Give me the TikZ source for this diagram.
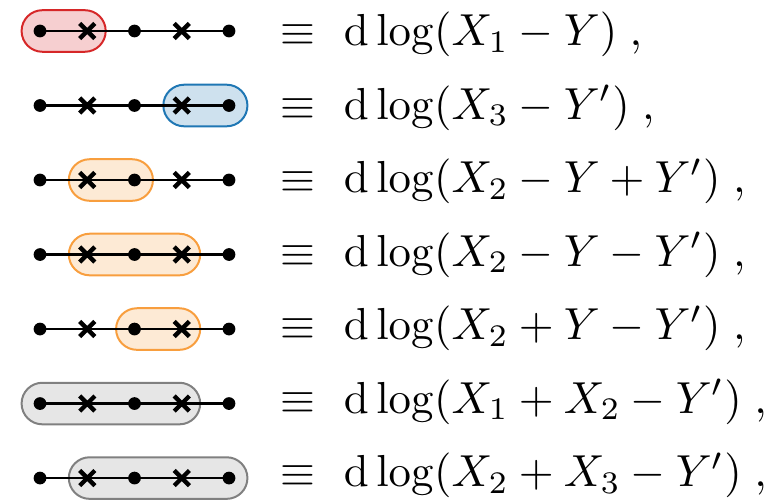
\documentclass[tikz,border=0pt]{standalone}
\usepackage{amsmath}
\usetikzlibrary{shapes.misc}

\definecolor{capred}{RGB}{214,39,40}
\definecolor{capblue}{RGB}{31,119,180}
\definecolor{caporange}{RGB}{248,158,62}
\definecolor{capgray}{RGB}{128,128,128}

\tikzset{
    capsule/.style={line width=1.2pt, rounded corners=0.44cm},
    redcap/.style={capsule, draw=capred, fill=capred!22},
    bluecap/.style={capsule, draw=capblue, fill=capblue!22},
    orangecap/.style={capsule, draw=caporange, fill=caporange!22},
    graycap/.style={capsule, draw=capgray, fill=capgray!20},
    knot/.style={circle, fill=black, inner sep=0pt, minimum size=0.27cm},
    kreuz/.style={cross out, draw=black, line width=2.6pt, inner sep=0pt, minimum size=0.23cm},
    strang/.style={line width=1.7pt},
    formel/.style={anchor=base west, inner sep=0pt, scale=2.7},
}

\begin{document}
\begin{tikzpicture}
    % Rahmen
    \useasboundingbox (-0.847,0.656) rectangle (15.598,-9.926);

    % Punkte
    \foreach \r in {1,...,7} {
            \foreach \c in {1,...,5} {
                    \coordinate (p\r\c) at ({\c-1},{-1.577*(\r-1)});
                }
        }

    % Kapseln
    \draw[redcap] ([shift={(-0.39,-0.44)}]p11) rectangle ([shift={(0.39,0.44)}]p12);
    \draw[bluecap] ([shift={(-0.39,-0.44)}]p24) rectangle ([shift={(0.39,0.44)}]p25);
    \draw[orangecap] ([shift={(-0.39,-0.44)}]p32) rectangle ([shift={(0.39,0.44)}]p33);
    \draw[orangecap] ([shift={(-0.39,-0.44)}]p42) rectangle ([shift={(0.39,0.44)}]p44);
    \draw[orangecap] ([shift={(-0.39,-0.44)}]p53) rectangle ([shift={(0.39,0.44)}]p54);
    \draw[graycap] ([shift={(-0.39,-0.44)}]p61) rectangle ([shift={(0.39,0.44)}]p64);
    \draw[graycap] ([shift={(-0.39,-0.44)}]p72) rectangle ([shift={(0.39,0.44)}]p75);

    % Linien, Punkte und Kreuze
    \foreach \r in {1,...,7} {
            \draw[strang] (p\r1) -- (p\r5);
            \foreach \c in {1,3,5} {
                    \node[knot] (k\r\c) at (p\r\c) {};
                }
            \foreach \c in {2,4} {
                    \node[kreuz] (x\r\c) at (p\r\c) {};
                }
        }

    % Formeln
    \foreach \r/\txt in {1/{X_1-Y},2/{X_3-Y'},3/{X_2-Y+Y'},4/{X_2-Y-Y'},5/{X_2+Y-Y'},6/{X_1+X_2-Y'},7/{X_2+X_3-Y'}} {
            \node[formel] (f\r) at (5.07,{-0.31-1.556*(\r-1)}) {$\equiv\mskip6.5mu \mathrm{d}\log(\txt)\;,$};
        }
\end{tikzpicture}
\end{document}
